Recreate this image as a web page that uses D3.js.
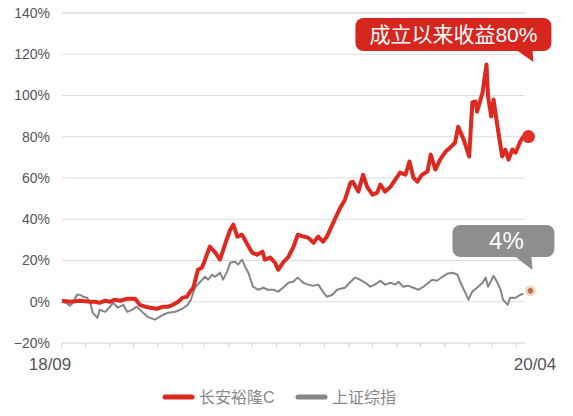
<!DOCTYPE html>
<html>
<head>
<meta charset="utf-8">
<script src="https://cdn.jsdelivr.net/npm/d3@7"></script>
<style>
  body { margin: 0; background: #fff; }
  text { font-family: "Liberation Sans", "Noto Sans CJK SC", sans-serif; }
</style>
</head>
<body>
<div id="chart"></div>
<script>
// values (cumulative return, %)
const redDates = ["2018-09-01","2018-09-11","2018-09-24","2018-10-07","2018-10-13","2018-10-19","2018-10-26","2018-11-01","2018-11-07","2018-11-14",
  "2018-11-23","2018-12-03","2018-12-09","2018-12-16","2018-12-22","2018-12-31","2019-01-08","2019-01-14","2019-01-20","2019-01-27",
  "2019-02-01","2019-02-07","2019-02-11","2019-02-15","2019-02-17","2019-02-21","2019-02-26","2019-03-02","2019-03-08","2019-03-15",
  "2019-03-21","2019-03-28","2019-04-03","2019-04-07","2019-04-12","2019-04-18","2019-04-25","2019-05-01","2019-05-07","2019-05-14",
  "2019-05-17","2019-05-24","2019-05-30","2019-06-03","2019-06-09","2019-06-16","2019-06-22","2019-06-28","2019-07-05","2019-07-11",
  "2019-07-18","2019-07-24","2019-07-30","2019-08-04","2019-08-11","2019-08-15","2019-08-21","2019-08-27","2019-09-03","2019-09-06",
  "2019-09-13","2019-09-19","2019-09-24","2019-10-01","2019-10-07","2019-10-11","2019-10-17","2019-10-24","2019-10-30","2019-11-05",
  "2019-11-12","2019-11-17","2019-11-22","2019-11-27","2019-12-03","2019-12-10","2019-12-14","2019-12-20","2019-12-26","2020-01-02",
  "2020-01-08","2020-01-14","2020-01-18","2020-01-25","2020-02-01","2020-02-05","2020-02-09","2020-02-11","2020-02-18","2020-02-23",
  "2020-02-25","2020-02-29","2020-03-03","2020-03-08","2020-03-12","2020-03-14","2020-03-18","2020-03-22","2020-03-27","2020-03-31",
  "2020-04-06","2020-04-10"];
const redValues = [0.5,0,0.5,0,0,-0.5,0.5,0,1.0,0.5,
  1.5,1.5,-1.5,-2.4,-2.9,-3.4,-2.4,-2.4,-1.5,0,
  1.9,2.4,4.9,6.8,9.7,15.5,16.5,20.4,26.7,23.8,
  20.4,28.6,34.9,37.4,31.6,32.5,27.7,23.8,22.8,24.3,
  20.4,21.4,18.9,15.5,18.9,21.8,26.2,32.5,31.6,31.1,
  28.6,31.6,29.1,31.6,37.4,40.8,45.6,49.5,57.8,58.2,
  53.4,61.6,55.8,51.9,52.9,56.8,53.4,55.8,59.2,62.6,
  61.6,68.0,60.2,58.2,61.6,63.1,71.4,64.1,68.9,72.8,
  74.8,77.2,84.9,78.6,70.4,96.6,97.1,92.2,101.4,115.0,
  99.5,89.8,98.1,84.9,75.2,70.4,73.8,68.9,73.8,72.3,
  77.7,80.1];

const greyDates = ["2018-09-01","2018-09-06","2018-09-11","2018-09-15","2018-09-20","2018-09-24","2018-09-28","2018-10-03","2018-10-07","2018-10-10",
  "2018-10-16","2018-10-19","2018-10-26","2018-11-01","2018-11-05","2018-11-11","2018-11-18","2018-11-23","2018-11-29","2018-12-05",
  "2018-12-12","2018-12-19","2018-12-28","2019-01-01","2019-01-08","2019-01-14","2019-01-23","2019-02-01","2019-02-08","2019-02-12",
  "2019-02-17","2019-02-24","2019-03-02","2019-03-06","2019-03-11","2019-03-15","2019-03-21","2019-03-25","2019-03-30","2019-04-03",
  "2019-04-09","2019-04-13","2019-04-18","2019-04-22","2019-04-26","2019-05-02","2019-05-09","2019-05-15","2019-05-21","2019-05-28",
  "2019-06-03","2019-06-09","2019-06-16","2019-06-22","2019-06-28","2019-07-05","2019-07-11","2019-07-18","2019-07-24","2019-07-30",
  "2019-08-04","2019-08-11","2019-08-17","2019-08-21","2019-08-27","2019-09-03","2019-09-09","2019-09-15","2019-09-22","2019-09-28",
  "2019-10-04","2019-10-11","2019-10-17","2019-10-24","2019-10-30","2019-11-03","2019-11-09","2019-11-15","2019-11-22","2019-11-28",
  "2019-12-05","2019-12-11","2019-12-16","2019-12-22","2019-12-29","2020-01-04","2020-01-11","2020-01-17","2020-01-21","2020-01-27",
  "2020-01-31","2020-02-05","2020-02-11","2020-02-18","2020-02-22","2020-02-25","2020-03-03","2020-03-08","2020-03-12","2020-03-15",
  "2020-03-21","2020-03-24","2020-03-31","2020-04-06","2020-04-10"];
const greyValues = [0,-0.5,-1.9,-0.5,3.4,3.4,2.4,1.9,-0.5,-5.3,
  -7.8,-3.9,-4.9,-2.4,-0.5,-2.9,-1.5,-4.9,-3.9,-2.4,
  -4.9,-7.3,-8.7,-7.8,-6.3,-5.3,-4.9,-3.4,-1.5,1.0,
  6.8,9.7,12.1,10.7,13.1,12.1,14.1,10.7,14.6,18.9,
  19.4,18.0,20.4,17.0,14.1,7.3,5.8,6.8,5.8,5.8,
  4.9,6.8,9.2,9.7,11.7,9.2,8.3,7.8,8.3,4.9,
  2.4,3.4,5.8,6.3,6.8,9.7,11.7,10.7,9.2,7.3,
  8.3,10.2,8.3,9.2,8.3,9.7,7.3,7.8,6.8,5.8,
  7.3,9.2,10.7,10.2,12.1,13.6,14.1,13.1,9.2,4.4,
  1.0,4.9,6.8,9.2,11.7,7.3,12.6,9.2,5.8,1.0,
  -1.5,1.9,1.9,3.4,3.9];

const yTicks = [-20, 0, 20, 40, 60, 80, 100, 120, 140];
const xLabels = ["18/09", "20/04"];
const seriesNames = ["长安裕隆C", "上证综指"];
const redLabel = "成立以来收益80%";
const greyLabel = "4%";

const width = 573, height = 416;
const parse = d3.timeParse("%Y-%m-%d");
const start = parse("2018-09-01"), end = parse("2020-04-12");

const x = d3.scaleTime().domain([start, end]).range([62, 525]);
const y = d3.scaleLinear().domain([-20, 140]).range([343, 13]);

const red = redDates.map((d, i) => ({date: parse(d), value: redValues[i]}));
const grey = greyDates.map((d, i) => ({date: parse(d), value: greyValues[i]}));

const svg = d3.select("#chart").append("svg")
  .attr("width", width)
  .attr("height", height);

// grid
svg.append("g").selectAll("line")
  .data(yTicks)
  .enter().append("line")
  .attr("x1", x.range()[0]).attr("x2", x.range()[1])
  .attr("y1", d => y(d)).attr("y2", d => y(d))
  .attr("stroke", d => d == -20 ? "#cfcfcf" : "#dddddd")
  .attr("stroke-width", d => d == 140 ? 1.6 : 1);

svg.append("g").selectAll("text")
  .data(yTicks)
  .enter().append("text")
  .attr("x", 50).attr("y", d => y(d))
  .attr("dy", "0.35em")
  .attr("text-anchor", "end")
  .attr("fill", "#555")
  .style("font-size", "14px")
  .text(d => (d < 0 ? "\u2212" + (-d) : d) + "%");

// month ticks under the axis
svg.append("g").selectAll("line")
  .data(d3.timeMonth.range(start, parse("2020-04-02")))
  .enter().append("line")
  .attr("x1", d => x(d)).attr("x2", d => x(d))
  .attr("y1", y(-20)).attr("y2", y(-20) + 4)
  .attr("stroke", "#cfcfcf");

svg.append("text")
  .attr("x", x(start) - 12).attr("y", 370)
  .attr("text-anchor", "middle").attr("fill", "#555")
  .style("font-size", "17px")
  .text(xLabels[0]);
svg.append("text")
  .attr("x", x(end) + 10).attr("y", 370)
  .attr("text-anchor", "middle").attr("fill", "#555")
  .style("font-size", "17px")
  .text(xLabels[1]);

const line = d3.line()
  .x(d => x(d.date))
  .y(d => y(d.value));

svg.append("path")
  .datum(grey)
  .attr("d", line)
  .attr("fill", "none")
  .attr("stroke", "#858585")
  .attr("stroke-width", 2)
  .attr("stroke-linejoin", "round");

svg.append("path")
  .datum(red)
  .attr("d", line)
  .attr("fill", "none")
  .attr("stroke", "#dc2a21")
  .attr("stroke-width", 4)
  .attr("stroke-linejoin", "round");

// end dots
var lastRed = red[red.length - 1], lastGrey = grey[grey.length - 1];
var rx = x(lastRed.date) + 5, ry = y(lastRed.value);
var gx = x(lastGrey.date) + 7, gy = y(lastGrey.value) - 3;

svg.append("circle").attr("cx", rx).attr("cy", ry).attr("r", 6.5).attr("fill", "#e0302a");
svg.append("circle").attr("cx", gx).attr("cy", gy).attr("r", 5.5).attr("fill", "#f4d6c2");
svg.append("circle").attr("cx", gx).attr("cy", gy).attr("r", 2.8).attr("fill", "#b8714a");

// callouts
var redBox = svg.append("g");
redBox.append("rect")
  .attr("x", rx - 173).attr("y", 18)
  .attr("width", 196).attr("height", 33).attr("rx", 8)
  .attr("fill", "#d6261e");
redBox.append("path")
  .attr("d", `M${rx - 12},50 L${rx + 4},50 L${rx + 5},62 Z`)
  .attr("fill", "#d6261e");
redBox.append("text")
  .attr("x", rx - 75).attr("y", 35).attr("dy", "0.35em")
  .attr("text-anchor", "middle").attr("fill", "#fff")
  .style("font-size", "21px")
  .text(redLabel);

var greyBox = svg.append("g");
greyBox.append("rect")
  .attr("x", gx - 78).attr("y", 225)
  .attr("width", 102).attr("height", 32).attr("rx", 8)
  .attr("fill", "#8e8e8e");
greyBox.append("path")
  .attr("d", `M${gx - 16},256 L${gx + 1},256 L${gx + 2},270 Z`)
  .attr("fill", "#8e8e8e");
greyBox.append("text")
  .attr("x", gx - 24).attr("y", 241).attr("dy", "0.35em")
  .attr("text-anchor", "middle").attr("fill", "#fff")
  .style("font-size", "24px")
  .text(greyLabel);

// legend
var legend = svg.append("g");
[["#dc2a21", 165], ["#858585", 298]].forEach(function(item, i) {
  legend.append("line")
    .attr("x1", item[1]).attr("x2", item[1] + 27)
    .attr("y1", 397).attr("y2", 397)
    .attr("stroke", item[0]).attr("stroke-width", 5)
    .attr("stroke-linecap", "round");
  legend.append("text")
    .attr("x", item[1] + 34).attr("y", 397).attr("dy", "0.35em")
    .attr("fill", "#888")
    .style("font-size", "16px")
    .text(seriesNames[i]);
});
</script>
</body>
</html>
